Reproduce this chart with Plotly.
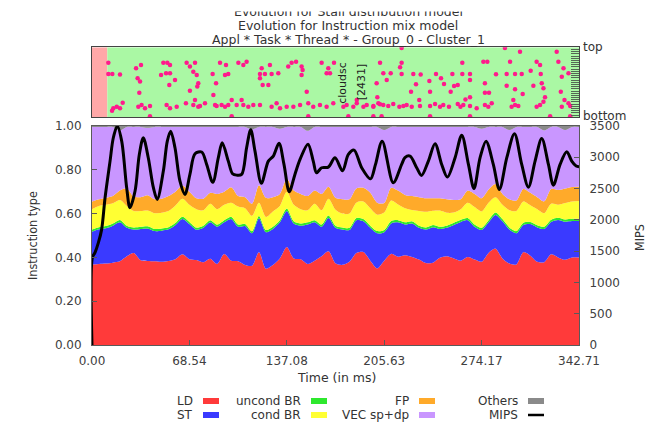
import numpy as np
import plotly.graph_objects as go

W, H = 652, 422

# ---------------- instruction mix (fractions), sampled every ~4.9 ms ----------------
time_ms = np.linspace(0, 342.71, 71)

ld = [0.368, 0.370, 0.372, 0.376, 0.382, 0.405, 0.420, 0.387, 0.384, 0.382,
      0.380, 0.384, 0.392, 0.414, 0.392, 0.388, 0.378, 0.394, 0.370, 0.415,
      0.385, 0.382, 0.365, 0.362, 0.424, 0.348, 0.365, 0.395, 0.448, 0.395,
      0.391, 0.370, 0.385, 0.405, 0.428, 0.373, 0.366, 0.380, 0.420, 0.425,
      0.385, 0.350, 0.385, 0.416, 0.403, 0.410, 0.402, 0.390, 0.374, 0.376,
      0.398, 0.405, 0.395, 0.385, 0.402, 0.390, 0.380, 0.420, 0.440, 0.395,
      0.372, 0.368, 0.424, 0.408, 0.380, 0.378, 0.414, 0.400, 0.389, 0.400,
      0.400]
st = [0.149, 0.158, 0.161, 0.169, 0.178, 0.130, 0.107, 0.143, 0.148, 0.138,
      0.142, 0.144, 0.156, 0.161, 0.160, 0.138, 0.157, 0.166, 0.170, 0.145,
      0.190, 0.158, 0.178, 0.148, 0.154, 0.167, 0.165, 0.165, 0.164, 0.160,
      0.154, 0.180, 0.175, 0.135, 0.152, 0.162, 0.161, 0.145, 0.150, 0.140,
      0.150, 0.160, 0.130, 0.139, 0.157, 0.140, 0.153, 0.145, 0.153, 0.162,
      0.132, 0.130, 0.153, 0.177, 0.168, 0.150, 0.145, 0.140, 0.154, 0.170,
      0.155, 0.142, 0.124, 0.144, 0.157, 0.152, 0.148, 0.171, 0.174, 0.166,
      0.166]
uncond_br = [0.010, 0.010, 0.010, 0.010, 0.011, 0.010, 0.010, 0.010, 0.010, 0.010,
             0.010, 0.010, 0.010, 0.011, 0.010, 0.010, 0.010, 0.010, 0.010, 0.010,
             0.011, 0.010, 0.010, 0.010, 0.011, 0.010, 0.010, 0.010, 0.011, 0.010,
             0.010, 0.010, 0.010, 0.010, 0.011, 0.010, 0.010, 0.010, 0.010, 0.010,
             0.010, 0.010, 0.010, 0.011, 0.010, 0.010, 0.010, 0.010, 0.010, 0.010,
             0.010, 0.010, 0.010, 0.010, 0.010, 0.010, 0.010, 0.010, 0.011, 0.010,
             0.010, 0.010, 0.010, 0.010, 0.010, 0.010, 0.010, 0.010, 0.010, 0.010,
             0.010]
cond_br = [0.093, 0.097, 0.097, 0.092, 0.091, 0.090, 0.075, 0.072, 0.072, 0.072,
           0.072, 0.074, 0.079, 0.082, 0.078, 0.084, 0.070, 0.075, 0.070, 0.070,
           0.064, 0.082, 0.072, 0.070, 0.061, 0.060, 0.070, 0.065, 0.077, 0.075,
           0.065, 0.055, 0.075, 0.065, 0.077, 0.073, 0.063, 0.065, 0.070, 0.080,
           0.079, 0.075, 0.080, 0.094, 0.072, 0.065, 0.052, 0.067, 0.071, 0.065,
           0.074, 0.059, 0.047, 0.048, 0.070, 0.080, 0.075, 0.080, 0.070, 0.065,
           0.078, 0.092, 0.097, 0.076, 0.073, 0.062, 0.073, 0.059, 0.075, 0.079,
           0.082]
fp = [0.035, 0.030, 0.032, 0.033, 0.043, 0.080, 0.066, 0.063, 0.070, 0.063,
      0.064, 0.068, 0.063, 0.060, 0.060, 0.050, 0.053, 0.050, 0.070, 0.060,
      0.070, 0.048, 0.050, 0.055, 0.080, 0.087, 0.065, 0.055, 0.060, 0.065,
      0.070, 0.065, 0.060, 0.075, 0.055, 0.054, 0.065, 0.065, 0.065, 0.063,
      0.071, 0.055, 0.043, 0.058, 0.063, 0.060, 0.063, 0.063, 0.062, 0.057,
      0.056, 0.061, 0.057, 0.045, 0.055, 0.060, 0.060, 0.060, 0.060, 0.050,
      0.050, 0.048, 0.057, 0.057, 0.055, 0.054, 0.067, 0.068, 0.067, 0.067,
      0.065]
vec_sp_dp = [0.341, 0.331, 0.324, 0.316, 0.275, 0.281, 0.318, 0.321, 0.308, 0.331,
             0.328, 0.316, 0.296, 0.268, 0.296, 0.326, 0.328, 0.301, 0.306, 0.296,
             0.276, 0.316, 0.321, 0.340, 0.266, 0.324, 0.321, 0.298, 0.236, 0.291,
             0.306, 0.298, 0.291, 0.306, 0.273, 0.324, 0.331, 0.331, 0.281, 0.278,
             0.301, 0.346, 0.334, 0.278, 0.291, 0.311, 0.316, 0.321, 0.326, 0.326,
             0.326, 0.331, 0.334, 0.331, 0.291, 0.306, 0.318, 0.286, 0.261, 0.306,
             0.317, 0.336, 0.284, 0.301, 0.321, 0.324, 0.284, 0.288, 0.267, 0.274,
             0.273]
others = [0.004, 0.004, 0.004, 0.004, 0.020, 0.004, 0.004, 0.004, 0.008, 0.004,
          0.004, 0.004, 0.004, 0.004, 0.004, 0.004, 0.004, 0.004, 0.004, 0.004,
          0.004, 0.004, 0.004, 0.015, 0.004, 0.004, 0.004, 0.012, 0.004, 0.004,
          0.004, 0.022, 0.004, 0.004, 0.004, 0.004, 0.004, 0.004, 0.004, 0.004,
          0.004, 0.004, 0.018, 0.004, 0.004, 0.004, 0.004, 0.004, 0.004, 0.004,
          0.004, 0.004, 0.004, 0.004, 0.004, 0.004, 0.012, 0.004, 0.004, 0.004,
          0.018, 0.004, 0.004, 0.004, 0.004, 0.020, 0.004, 0.004, 0.018, 0.004,
          0.004]

mix_names = ["LD", "ST", "uncond BR", "cond BR", "FP", "VEC sp+dp", "Others"]
mix_values = [ld, st, uncond_br, cond_br, fp, vec_sp_dp, others]
mix_colors = ["#ff3a3a", "#3a3aff", "#2ee82e", "#ffff33", "#ffaa2a", "#c996ff", "#8a8a8a"]

# ---------------- MIPS ----------------
mips_t = [0, 0.3, 2.1, 4.5, 6.8, 9.2, 12.7, 15.0, 17.8, 20.9,
          24.4, 26.7, 30.3, 33.3, 36.1, 39.6, 43.2, 45.9, 50.2, 53.0,
          55.4, 58.4, 61.9, 65.4, 68.9, 72.5, 77.2, 80.7, 85.0, 88.9,
          91.6, 95.9, 98.9, 101.8, 105.3, 108.8, 111.7, 114.7, 119.2, 124.1,
          127.6, 131.6, 135.1, 138.8, 142.8, 146.4, 152.0, 155.7, 158.0, 161.6,
          166.3, 171.0, 176.3, 180.4, 184.4, 189.8, 196.0, 199.5, 204.2, 212.0,
          217.9, 220.2, 223.8, 228.5, 231.9, 236.7, 241.4, 246.1, 250.1, 255.5,
          260.2, 264.9, 268.8, 273.1, 277.3, 282.4, 286.7, 291.9, 297.3, 302.4,
          307.1, 311.8, 316.5, 321.2, 324.7, 329.4, 334.1, 337.6, 340.7, 342.71]
mips = [0, 1400, 1475, 1635, 1848, 2354, 2939, 3312, 3500, 3258,
        2514, 2194, 2461, 3045, 3312, 2993, 2514, 2327, 2779, 3258,
        3418, 3152, 2619, 2407, 2726, 3057, 3084, 2886, 2600, 2993,
        3232, 2939, 2737, 2715, 2726, 3152, 3440, 3099, 2585, 2939,
        3019, 3225, 2886, 2450, 2726, 2966, 3210, 2939, 2753, 2833,
        2843, 2993, 2785, 3045, 3115, 2833, 2655, 2886, 3258, 2594,
        2886, 2993, 3019, 2833, 2710, 2939, 3216, 2886, 2683, 2993,
        3354, 2886, 2502, 2993, 3258, 2886, 2486, 2993, 3376, 2886,
        2523, 2939, 3300, 2886, 2555, 2886, 3088, 2939, 2860, 2850]

# ---------------- timeline: thread states and events ----------------
state_start = [0.0, 10.8]
state_end = [10.8, 342.71]
state_color = ["#ffa8a8", "#aaf8a4"]

event_t = [
    11.5, 11.5, 14.3, 19.7, 31.0, 34.5, 32.1, 33.8, 33.3,
    50.2, 53.0, 54.9, 48.6, 52.1, 54.9, 54.4, 58.4,
    66.6, 72.5, 68.9, 71.3, 73.7, 74.8, 74.1, 68.9,
    90.1, 94.3, 84.9, 93.6, 95.9, 87.3, 85.4,
    103.0, 106.5, 108.8,
    119.4, 125.2, 118.2, 121.7, 126.4, 131.1, 118.2, 120.1, 124.1,
    140.5, 143.6, 138.1, 147.5, 148.2, 147.5, 151.1,
    161.6, 166.3, 165.1, 167.5, 170.3, 186.3,
    14.1, 15.0, 17.4, 19.7, 21.6, 32.6, 34.9, 37.3, 40.8, 52.5,
    54.9, 59.6, 66.1, 71.3, 72.5, 74.8, 76.0, 79.5, 86.6, 87.7,
    91.2, 93.6, 95.9, 98.3, 101.8, 105.3, 106.5, 110.0, 113.5, 118.2,
    126.4, 129.9, 132.3, 137.0, 141.7, 146.4, 152.2, 155.7, 160.4, 165.1,
    169.8, 176.9, 179.2, 183.9, 186.3, 191.0, 193.3, 198.0, 201.5,
    40.8, 98.3, 152.2, 180.4,
    217.9, 290.6, 301.2, 327.0,
    202.7, 217.9, 216.8, 260.6, 275.4, 278.2, 294.2, 312.9, 315.3, 328.2, 331.8,
    205.0, 210.2, 217.9, 226.1, 231.3, 242.1, 253.6, 260.6, 266.0, 284.3,
    291.8, 297.7, 302.4, 308.7, 315.8, 335.3,
    207.4, 200.3, 228.0, 237.4, 245.6, 247.7, 254.8, 257.4, 266.0, 276.5,
    291.8, 310.6, 316.5, 330.6,
    224.5, 237.9, 252.4, 276.5, 279.4, 297.7, 303.1, 317.7, 329.9,
    200.8, 230.3, 262.8, 266.0, 296.5, 318.8, 332.5,
    198.0, 202.7, 205.0, 208.5, 212.0, 216.3, 219.1, 221.4, 225.0, 230.8,
    237.9, 241.4, 244.9, 247.2, 251.2, 257.4, 259.3, 261.3, 266.0, 270.7,
    276.5, 278.9, 281.3, 295.3, 297.7, 300.0, 312.9, 315.3, 317.7, 330.6,
    335.3, 336.5,
    198.0, 203.8, 237.9, 266.0, 322.4, 336.5,
]
event_level = [
    78, 62, 62, 61, 70, 74.7, 55.7, 51, 35,
    78, 78, 74.7, 60.4, 62.8, 62.8, 46.2, 53.3,
    78, 78, 72.4, 65.2, 60.4, 48.6, 43.9, 38.1,
    78, 74.7, 61.9, 60.4, 61.9, 48.6, 31.9,
    78, 74.7, 79.4,
    70, 74.7, 61.9, 61.9, 61.9, 62.8, 55.7, 46.2, 46.2,
    78, 79.4, 72.4, 72.4, 67.6, 60.4, 36.6,
    78, 70, 62.8, 62.8, 78, 24.7,
    9.5, 12.8, 15.2, 12.8, 20.9, 15.2, 17.6, 12.8, 16.1, 17.6,
    12.8, 15.2, 19.9, 17.6, 24.7, 15.2, 16.1, 19.9, 17.6, 16.1,
    17.6, 15.2, 17.6, 24.7, 17.6, 24.7, 17.6, 15.2, 17.6, 17.6,
    15.2, 19.9, 12.8, 15.2, 15.2, 17.6, 19.9, 15.2, 17.6, 15.2,
    19.9, 15.2, 17.6, 15.2, 19.9, 15.2, 17.6, 15.2, 19.9,
    1.5, 1.5, 1.5, 1.5,
    99, 99, 93.8, 93.8,
    78, 78, 71.4, 78, 79.4, 79.4, 79.4, 79.4, 74.7, 79.4, 70,
    62.8, 62.8, 61.9, 61.9, 61, 61.9, 61.9, 61.9, 61.9, 61.4,
    61.9, 61.9, 61.9, 66.6, 61.9, 62.8,
    53.3, 48.6, 47.1, 51.9, 55.7, 47.6, 44.8, 46.2, 53.3, 48.6,
    45.2, 45.2, 48.6, 58,
    36.6, 36.6, 36.6, 35.2, 35.2, 40, 33.3, 41.4, 36.6,
    28.5, 24.7, 25.6, 28.5, 24.7, 28.5, 24.7,
    16.1, 18.6, 17.6, 16.1, 19, 15.2, 16.1, 17.6, 15.2, 16.1,
    16.1, 19, 15.2, 17.6, 15.2, 19, 15.2, 17.6, 16.1, 12.8,
    17.6, 15.2, 19.9, 15.2, 17.6, 16.1, 15.2, 17.6, 22.3, 15.2,
    19.9, 16.1,
    1.5, 1.5, 1.5, 1.5, 1.5, 1.5,
]

x_ticks = [0.00, 68.54, 137.08, 205.63, 274.17, 342.71]
y_ticks = [0.0, 0.2, 0.4, 0.6, 0.8, 1.0]
y2_ticks = [0, 500, 1000, 1500, 2000, 2500, 3000, 3500]

# ---------------- layout helpers (pixel -> paper) ----------------
def fx(p):
    return p / W


def fy(p):
    return 1 - p / H


FONT = "DejaVu Sans"
NARROW = "Liberation Sans Narrow, DejaVu Sans Condensed, sans-serif"
TXT = "#333333"
AXC = "#5a5a5a"


def label(text, x, y, size=12, family=FONT, xanchor="center", angle=0, color=TXT, ref="paper"):
    if ref == "paper":
        x, y = fx(x), fy(y)
        xr, yr = "paper", "paper"
    else:
        xr, yr = "x3", "y3"
    return dict(text=text, xref=xr, yref=yr, x=x, y=y, xanchor=xanchor, yanchor="middle",
                textangle=angle, showarrow=False, font=dict(family=family, size=size, color=color))


fig = go.Figure()

for name, vals, col in zip(mix_names, mix_values, mix_colors):
    fig.add_trace(go.Scatter(
        x=time_ms, y=vals, name=name, mode="lines", stackgroup="mix",
        line=dict(width=0, shape="spline", smoothing=0.8), fillcolor=col,
        xaxis="x", yaxis="y", hoverinfo="skip"))

fig.add_trace(go.Scatter(
    x=mips_t, y=mips, name="MIPS", mode="lines",
    line=dict(color="black", width=3, shape="spline", smoothing=0.9),
    xaxis="x", yaxis="y2", hoverinfo="skip"))

fig.add_trace(go.Scatter(
    x=event_t, y=event_level, mode="markers",
    marker=dict(color="#ff1a8c", size=4.5, line=dict(width=0)),
    xaxis="x3", yaxis="y3", hoverinfo="skip"))

shapes = []
for s0, s1, c in zip(state_start, state_end, state_color):
    shapes.append(dict(type="rect", xref="x3", yref="y3", x0=s0, x1=s1, y0=0, y1=100,
                       fillcolor=c, line=dict(width=0), layer="below"))

annotations = []

# titles (the uppermost one belongs to a neighbouring panel and is cut by the page edge)
annotations.append(label("Evolution for Stall distribution model", 348, 11.5, size=12.5))
annotations.append(dict(text=" ", xref="paper", yref="paper", x=0, y=1, xanchor="left", yanchor="top",
                        width=W, height=9.5, bgcolor="white", showarrow=False, borderpad=0))
annotations.append(label("Evolution for Instruction mix model", 348, 26, size=12.5))
annotations.append(label("Appl * Task * Thread * - Group_0 - Cluster_1", 348, 40, size=12.5))

# timeline side labels
annotations.append(label("top", 581, 47, xanchor="left"))
annotations.append(label("bottom", 581, 116, xanchor="left"))
annotations.append(label("cloudsc", 176.5, 49, size=11, angle=-90, color="#222", ref="x3"))
annotations.append(label("[2431]", 189.3, 50, size=11, angle=-90, color="#222", ref="x3"))

# axis titles
annotations.append(label("Instruction type", 32, 236, size=12.5, family=NARROW, angle=-90))
annotations.append(label("MIPS", 639, 238, size=12.5, family=NARROW, angle=-90))
annotations.append(label("Time (in ms)", 336, 377.5, size=12.5))

# legend: label on the left, sample on the right, 4 columns x 2 rows
legend_cols = [203, 311, 419, 528]
legend_rows = [401, 415]
legend_order = [("LD", 0, 0), ("ST", 0, 1), ("uncond BR", 1, 0), ("cond BR", 1, 1),
                ("FP", 2, 0), ("VEC sp+dp", 2, 1), ("Others", 3, 0), ("MIPS", 3, 1)]
for name, c, r in legend_order:
    x0 = legend_cols[c]
    y0 = legend_rows[r]
    annotations.append(label(name, x0 - 8, y0, xanchor="right"))
    if name == "MIPS":
        shapes.append(dict(type="line", xref="paper", yref="paper", x0=fx(x0), x1=fx(x0 + 16),
                           y0=fy(y0), y1=fy(y0), line=dict(color="black", width=2.5)))
    else:
        col = mix_colors[mix_names.index(name)]
        shapes.append(dict(type="rect", xref="paper", yref="paper", x0=fx(x0), x1=fx(x0 + 16),
                           y0=fy(y0 + 3), y1=fy(y0 - 3), fillcolor=col, line=dict(width=0)))

main_xdom = [fx(92), fx(579)]
tick_font = dict(family=FONT, size=12, color="#404040")

fig.update_layout(
    template="none",
    width=W, height=H, margin=dict(l=0, r=0, t=0, b=0, pad=0, autoexpand=False),
    paper_bgcolor="white", plot_bgcolor="white", showlegend=False, hovermode=False,
    xaxis=dict(domain=main_xdom, anchor="y", range=[0, 342.71], tickvals=x_ticks,
               ticktext=[f"{v:.2f}" for v in x_ticks], ticks="inside", ticklen=5, tickcolor=AXC,
               showline=True, linecolor=AXC, mirror=True, showgrid=False, zeroline=False,
               tickfont=tick_font, ticklabelstandoff=5, automargin=False),
    yaxis=dict(domain=[fy(345), fy(126)], anchor="x", range=[0, 1], tickvals=y_ticks,
               ticktext=[f"{v:.2f}" for v in y_ticks], ticks="inside", ticklen=5, tickcolor=AXC,
               showline=True, linecolor=AXC, showgrid=False, zeroline=False,
               tickfont=tick_font, ticklabelstandoff=7, automargin=False),
    yaxis2=dict(overlaying="y", side="right", anchor="x", range=[0, 3500], tickvals=y2_ticks,
                ticks="inside", ticklen=5, tickcolor=AXC, showline=True, linecolor=AXC,
                showgrid=False, zeroline=False, tickfont=tick_font, ticklabelstandoff=7,
                automargin=False),
    xaxis3=dict(domain=main_xdom, anchor="y3", range=[0, 342.71], showticklabels=False,
                ticks="", showline=True, linecolor="#444", mirror=True, showgrid=False,
                zeroline=False, automargin=False),
    yaxis3=dict(domain=[fy(117.3), fy(47.3)], anchor="x3", range=[0, 100], side="right",
                tickvals=list(np.linspace(0, 100, 33)), ticks="inside", ticklen=8, tickcolor="#556655",
                showticklabels=False, showline=True, linecolor="#444", mirror=True,
                showgrid=False, zeroline=False, automargin=False),
    shapes=shapes, annotations=annotations,
)

fig.write_html("out.html")
